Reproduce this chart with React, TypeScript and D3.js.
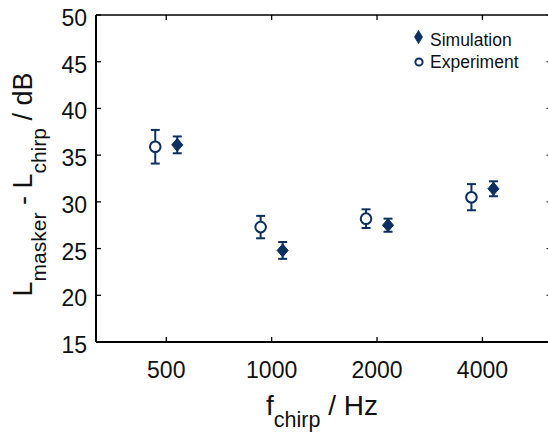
import React from "react";
import * as d3 from "d3";

const freqs = [500, 1000, 2000, 4000];
const tickLabels = ["500", "1000", "2000", "4000"];
const yTicks = [15, 20, 25, 30, 35, 40, 45, 50];
const simMean = [36.1, 24.8, 27.5, 31.4];
const simErr = [0.9, 0.9, 0.7, 0.8];
const expMean = [35.9, 27.3, 28.2, 30.5];
const expErr = [1.8, 1.2, 1.0, 1.4];

const W = 548;
const H = 434;
const M = { left: 96, top: 15, right: 551.5, bottom: 342 };
const COLOR = "#0b2f5e";
const FONT = "'Liberation Sans', Arial, sans-serif";

export default function App() {
  const x = d3.scaleLog().domain([315, 6300]).range([M.left, M.right]);
  const y = d3.scaleLinear().domain([15, 50]).range([M.bottom, M.top]);
  const off = 11;
  const tl = 5;

  const diamond = (cx: number, cy: number, hw: number, hh: number) =>
    `M${cx},${cy - hh}L${cx + hw},${cy}L${cx},${cy + hh}L${cx - hw},${cy}Z`;

  return (
    <svg
      width={W}
      height={H}
      style={{ position: "fixed", left: 0, top: 0, background: "#fff" }}
      fontFamily={FONT}
    >
      <rect x={0} y={0} width={W} height={H} fill="#fff" />
      {/* axes box */}
      <line x1={M.left} x2={M.right} y1={M.top} y2={M.top} stroke="#000" strokeWidth={1.3} />
      <line x1={M.left} x2={M.right} y1={M.bottom} y2={M.bottom} stroke="#000" strokeWidth={2} />
      <line x1={M.left} x2={M.left} y1={M.top} y2={M.bottom} stroke="#000" strokeWidth={2} />
      <line x1={M.right} x2={M.right} y1={M.top} y2={M.bottom} stroke="#000" strokeWidth={1.3} />

      {/* y ticks */}
      {yTicks.map((t) => (
        <g key={"y" + t}>
          <line x1={M.left} x2={M.left + tl} y1={y(t)} y2={y(t)} stroke="#000" strokeWidth={1.3} />
          <line x1={M.right} x2={M.right - tl} y1={y(t)} y2={y(t)} stroke="#000" strokeWidth={1} />
          <text x={87} y={y(t) + 11} textAnchor="end" fontSize={23} fill="#111">
            {t}
          </text>
        </g>
      ))}

      {/* x ticks */}
      {freqs.map((f, i) => (
        <g key={"x" + f}>
          <line x1={x(f)} x2={x(f)} y1={M.bottom} y2={M.bottom - tl} stroke="#000" strokeWidth={1.3} />
          <line x1={x(f)} x2={x(f)} y1={M.top} y2={M.top + tl} stroke="#000" strokeWidth={1.3} />
          <text x={x(f)} y={378} textAnchor="middle" fontSize={23} fill="#111">
            {tickLabels[i]}
          </text>
        </g>
      ))}

      {/* x label */}
      <text x={(M.left + 548) / 2} y={415} textAnchor="middle" fontSize={28} fill="#111">
        f
        <tspan fontSize={21.5} dy={12}>chirp</tspan>
        <tspan dy={-12}> / Hz</tspan>
      </text>

      {/* y label */}
      <text
        transform={`translate(32,${(M.top + M.bottom) / 2 + 6}) rotate(-90)`}
        textAnchor="middle"
        fontSize={27}
        fill="#111"
      >
        L
        <tspan fontSize={21} dy={14}>masker</tspan>
        <tspan dy={-14}> - L</tspan>
        <tspan fontSize={21} dy={14}>chirp</tspan>
        <tspan dy={-14}> / dB</tspan>
      </text>

      {/* experiment points */}
      {freqs.map((f, i) => {
        const cx = x(f) - off;
        return (
          <g key={"e" + f} stroke={COLOR} strokeWidth={2} fill="none">
            <line x1={cx} x2={cx} y1={y(expMean[i] + expErr[i])} y2={y(expMean[i] - expErr[i])} />
            <line x1={cx - 4.5} x2={cx + 4.5} y1={y(expMean[i] + expErr[i])} y2={y(expMean[i] + expErr[i])} />
            <line x1={cx - 4.5} x2={cx + 4.5} y1={y(expMean[i] - expErr[i])} y2={y(expMean[i] - expErr[i])} />
            <circle cx={cx} cy={y(expMean[i])} r={5.3} fill="#fff" />
          </g>
        );
      })}

      {/* simulation points */}
      {freqs.map((f, i) => {
        const cx = x(f) + off;
        return (
          <g key={"s" + f} stroke={COLOR} strokeWidth={2} fill={COLOR}>
            <line x1={cx} x2={cx} y1={y(simMean[i] + simErr[i])} y2={y(simMean[i] - simErr[i])} />
            <line x1={cx - 4.5} x2={cx + 4.5} y1={y(simMean[i] + simErr[i])} y2={y(simMean[i] + simErr[i])} />
            <line x1={cx - 4.5} x2={cx + 4.5} y1={y(simMean[i] - simErr[i])} y2={y(simMean[i] - simErr[i])} />
            <path d={diamond(cx, y(simMean[i]), 5.5, 6.5)} strokeWidth={1} />
          </g>
        );
      })}

      {/* legend */}
      <path d={diamond(418.5, 37, 4, 6.5)} fill={COLOR} stroke={COLOR} strokeWidth={0.8} />
      <text x={430} y={46} fontSize={17.5} fill="#111">Simulation</text>
      <circle cx={419} cy={62} r={3.6} fill="#fff" stroke={COLOR} strokeWidth={2} />
      <text x={430} y={68} fontSize={17.5} fill="#111">Experiment</text>
    </svg>
  );
}
